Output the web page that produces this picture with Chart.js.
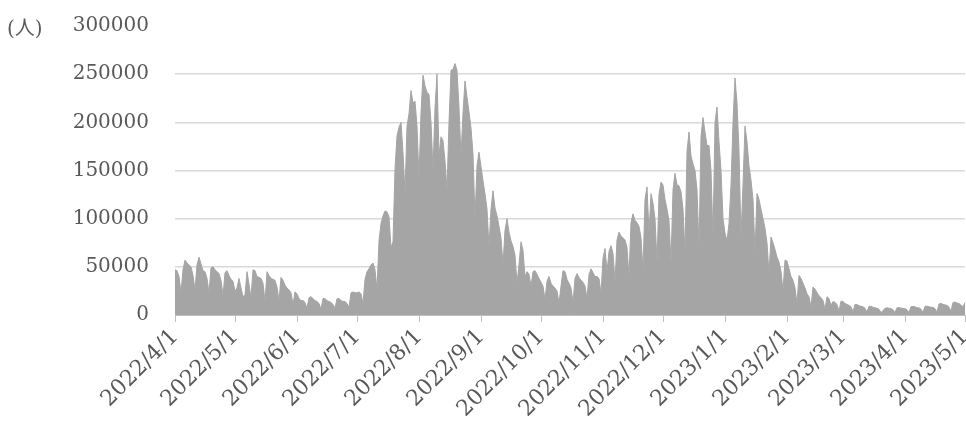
<!DOCTYPE html>
<html>
<head>
<meta charset="utf-8">
<script src="https://cdn.jsdelivr.net/npm/chart.js@4/dist/chart.umd.min.js"></script>
<style>
  html, body { margin: 0; padding: 0; background: #ffffff; }
  #wrap { width: 966px; height: 425px; }
</style>
</head>
<body>
<div id="wrap"><canvas id="chart" width="966" height="425"></canvas></div>
<script>
// Daily new cases (persons), one array per month, starting 2022/4/1
const apr2022 = [47000, 46000, 40000, 23000, 47000, 57000, 54000, 52000, 50000, 41000,
                 26000, 52000, 60000, 53000, 46000, 45000, 38000, 23000, 49000, 50000,
                 47000, 45000, 43000, 36000, 20000, 44000, 46000, 41000, 37000, 35000];
const may2022 = [25000, 28000, 38000, 28000, 19000, 21000, 45000, 32000, 18000, 47000,
                 46000, 40000, 39000, 38000, 33000, 14000, 45000, 41000, 38000, 37000,
                 36000, 29000, 15000, 39000, 36000, 31000, 28000, 26000, 23000, 11000,
                 24000];
const jun2022 = [22000, 17000, 15000, 15000, 13000, 7000, 18000, 19000, 17000, 15000,
                 14000, 12000, 6000, 17000, 17000, 15000, 14000, 13000, 11000, 7000,
                 17000, 17000, 15000, 14000, 14000, 12000, 8000, 23000, 24000, 23000];
const jul2022 = [23000, 24000, 22000, 12000, 37000, 45000, 48000, 52000, 54000, 47000,
                 27000, 77000, 95000, 103000, 108000, 107000, 102000, 70000, 76000, 152000,
                 186000, 195000, 200000, 168000, 127000, 196000, 209000, 233000, 220000, 222000,
                 196000];
const aug2022 = [142000, 210000, 249000, 238000, 231000, 229000, 200000, 150000, 215000, 250000,
                 165000, 185000, 181000, 160000, 130000, 200000, 254000, 255000, 261000, 254000,
                 215000, 165000, 210000, 243000, 226000, 211000, 194000, 167000, 100000, 155000,
                 169000];
const sep2022 = [154000, 139000, 126000, 110000, 70000, 110000, 129000, 111000, 103000, 92000,
                 80000, 52000, 88000, 100000, 86000, 77000, 71000, 62000, 33000, 52000,
                 76000, 67000, 40000, 45000, 42000, 30000, 45000, 46000, 42000, 38000];
const oct2022 = [34000, 30000, 16000, 35000, 40000, 33000, 30000, 28000, 25000, 12000,
                 30000, 46000, 45000, 37000, 33000, 28000, 13000, 38000, 43000, 39000,
                 36000, 34000, 30000, 17000, 42000, 48000, 44000, 40000, 40000, 38000,
                 22000];
const nov2022 = [59000, 69000, 45000, 66000, 72000, 64000, 34000, 78000, 86000, 82000,
                 80000, 78000, 70000, 40000, 96000, 105000, 98000, 96000, 92000, 80000,
                 46000, 120000, 133000, 85000, 126000, 116000, 100000, 55000, 125000, 138000];
const dec2022 = [135000, 120000, 110000, 98000, 55000, 130000, 147000, 135000, 134000, 128000,
                 110000, 65000, 170000, 190000, 165000, 157000, 150000, 130000, 70000, 185000,
                 205000, 190000, 176000, 176000, 150000, 80000, 200000, 216000, 180000, 150000,
                 100000];
const jan2023 = [85000, 77000, 95000, 135000, 200000, 246000, 220000, 170000, 81000, 135000,
                 196000, 180000, 155000, 140000, 120000, 64000, 126000, 120000, 110000, 100000,
                 90000, 75000, 43000, 81000, 75000, 68000, 60000, 55000, 45000, 25000,
                 57000];
const feb2023 = [56000, 48000, 40000, 36000, 28000, 12000, 41000, 38000, 33000, 28000,
                 22000, 19000, 8000, 29000, 27000, 23000, 20000, 18000, 15000, 6000,
                 19000, 17000, 10000, 14000, 13000, 11000, 4000, 14500];
const mar2023 = [14000, 12000, 11000, 10000, 8500, 3500, 11000, 11000, 9500, 9000,
                 8500, 7000, 3000, 9000, 9000, 8000, 7500, 7000, 6000, 2500,
                 4500, 7000, 7500, 7000, 6500, 5500, 2500, 7500, 7600, 7200,
                 6800];
const apr2023 = [6500, 5500, 2500, 8500, 9000, 8500, 7500, 7500, 6000, 2800,
                 9000, 9200, 8500, 8000, 8000, 6500, 3200, 11500, 12000, 11000,
                 10500, 10000, 8000, 3800, 13000, 13500, 12500, 12000, 10000, 8500];
const may2023 = [13000];

const dailyCases = [].concat(apr2022, may2022, jun2022, jul2022, aug2022, sep2022,
  oct2022, nov2022, dec2022, jan2023, feb2023, mar2023, apr2023, may2023);

// Month-start labels shown on the date axis
const monthTicks = ['2022/4/1', '2022/5/1', '2022/6/1', '2022/7/1', '2022/8/1', '2022/9/1',
  '2022/10/1', '2022/11/1', '2022/12/1', '2023/1/1', '2023/2/1', '2023/3/1', '2023/4/1', '2023/5/1'];

// Value axis
const yMin = 0, yMax = 300000, yStep = 50000;
const unitLabel = '(人)';

// One category per day
const startUTC = Date.UTC(2022, 3, 1);
const dayLabels = dailyCases.map((_, i) => {
  const d = new Date(startUTC + i * 86400000);
  return d.getUTCFullYear() + '/' + (d.getUTCMonth() + 1) + '/' + d.getUTCDate();
});

const textColor = '#595959';
const gridColor = '#d9d9d9';
const serifStack = '"DejaVu Serif", "Liberation Serif", serif';

const unitPlugin = {
  id: 'unitLabel',
  afterDraw(chart) {
    const y = chart.scales.y;
    const ctx = chart.ctx;
    ctx.save();
    ctx.fillStyle = textColor;
    ctx.font = '20px "DejaVu Serif", "Noto Sans CJK JP", serif';
    ctx.textAlign = 'left';
    ctx.textBaseline = 'middle';
    ctx.fillText(unitLabel, 7, y.getPixelForValue(yMax) + 4);
    ctx.restore();
  }
};

new Chart(document.getElementById('chart'), {
  type: 'line',
  data: {
    labels: dayLabels,
    datasets: [{
      data: dailyCases,
      fill: 'origin',
      backgroundColor: '#a5a5a5',
      borderColor: '#a5a5a5',
      borderWidth: 1,
      pointRadius: 0,
      tension: 0
    }]
  },
  options: {
    responsive: false,
    animation: false,
    devicePixelRatio: 1,
    layout: { padding: { left: 73, right: 1, top: 26, bottom: 0 } },
    plugins: { legend: { display: false }, tooltip: { enabled: false } },
    scales: {
      x: {
        type: 'category',
        offset: false,
        border: { color: '#bfbfbf', width: 1 },
        grid: {
          drawOnChartArea: false,
          drawTicks: true,
          tickLength: 7,
          color: '#bfbfbf'
        },
        afterFit: scale => {
          scale.height = 110;
          scale.paddingLeft = 0;
          scale.paddingRight = 0;
        },
        ticks: {
          autoSkip: false,
          minRotation: 45,
          maxRotation: 45,
          padding: 2,
          color: textColor,
          font: { family: serifStack, size: 22 },
          callback: function (value, index) {
            const lbl = dayLabels[index];
            return monthTicks.includes(lbl) ? lbl : null;
          }
        }
      },
      y: {
        min: yMin,
        max: yMax,
        border: { display: false },
        grid: {
          color: ctx => (ctx.tick && ctx.tick.value === yMax) ? 'rgba(0,0,0,0)' : gridColor,
          lineWidth: 1.5,
          drawTicks: false
        },
        afterFit: scale => {
          scale.width = 102;
          scale.paddingTop = 0;
          scale.paddingBottom = 0;
        },
        ticks: {
          stepSize: yStep,
          padding: 26,
          color: textColor,
          font: { family: serifStack, size: 20 },
          callback: v => String(v)
        }
      }
    }
  },
  plugins: [unitPlugin]
});
</script>
</body>
</html>
